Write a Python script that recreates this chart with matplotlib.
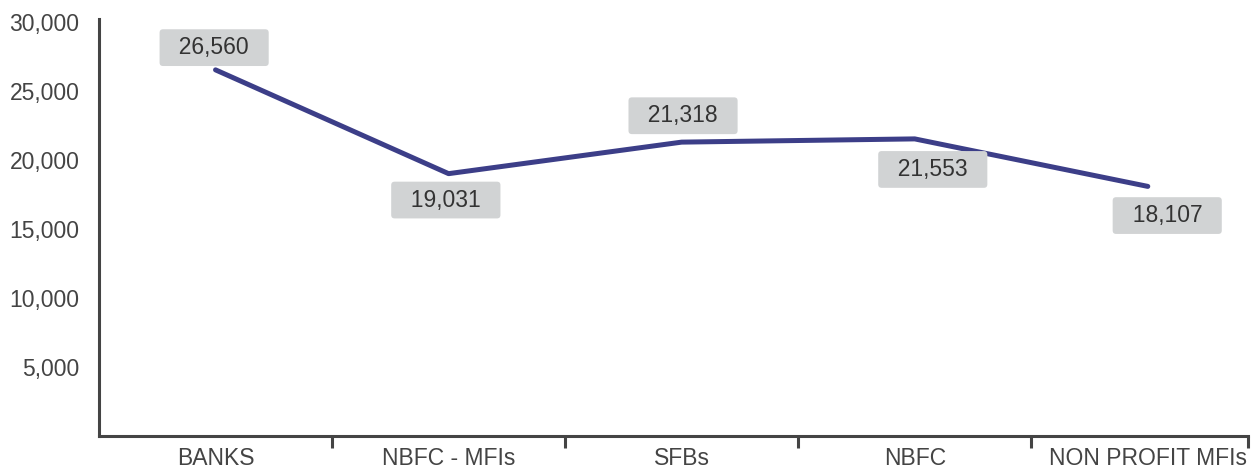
import matplotlib
matplotlib.use("Agg")
import matplotlib.pyplot as plt
from matplotlib.ticker import FuncFormatter, FixedLocator

categories = ["BANKS", "NBFC - MFIs", "SFBs", "NBFC", "NON PROFIT MFIs"]
values = [26560, 19031, 21318, 21553, 18107]
yticks = [5000, 10000, 15000, 20000, 25000, 30000]
# label offsets (points) relative to each data point
label_offsets = [(-1, 16), (-2, -19), (1, 19), (13, -22), (14, -21)]

plt.rcParams['font.family'] = ['Liberation Sans', 'DejaVu Sans']

fig = plt.figure(figsize=(12.53, 4.73), dpi=100)
ax = fig.add_axes([99/1253, 37/473, (1248-99)/1253, (436-19)/473])

x = list(range(len(categories)))
ax.plot(x, values, color='#3c3e88', lw=3.6, solid_capstyle='round', solid_joinstyle='round', zorder=2)

for xi, v, (dx, dy) in zip(x, values, label_offsets):
    ax.annotate(f"  {v:,}  ", (xi, v), xytext=(dx, dy), textcoords='offset points',
                ha='center', va='center', fontsize=16.5, color='#333333', zorder=3,
                bbox=dict(boxstyle='round,pad=0.3,rounding_size=0.15', fc='#d1d3d4', ec='none'))

ax.set_xlim(-0.5, 4.43)
ax.set_ylim(0, 30250)
ax.set_xticks(x)
ax.set_xticklabels(categories)
ax.xaxis.set_minor_locator(FixedLocator([0.5, 1.5, 2.5, 3.5, 4.43]))
ax.tick_params(axis='x', which='major', length=0, pad=8, labelsize=16.5, labelcolor='#444444')
ax.tick_params(axis='x', which='minor', length=8.5, width=2.2, color='#444444', direction='out')
ax.set_yticks(yticks)
ax.yaxis.set_major_formatter(FuncFormatter(lambda v, p: f"{int(v):,}"))
ax.tick_params(axis='y', length=0, pad=14, labelsize=16.5, labelcolor='#444444')

for s in ['top', 'right']:
    ax.spines[s].set_visible(False)
for s in ['left', 'bottom']:
    ax.spines[s].set_color('#444444')
    ax.spines[s].set_linewidth(2.2)

fig.savefig("out.png", dpi=100)
